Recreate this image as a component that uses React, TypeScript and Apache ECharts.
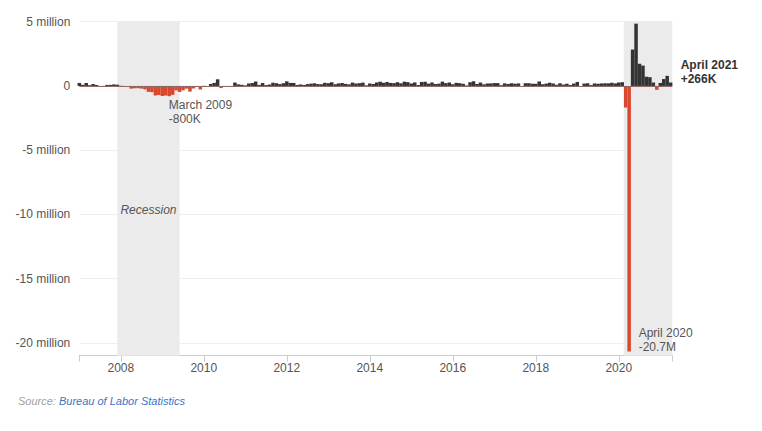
import React, { useEffect, useRef } from 'react';
import * as echarts from 'echarts';

// Monthly change in nonfarm payrolls, thousands
const years = [2007, 2008, 2009, 2010, 2011, 2012, 2013, 2014, 2015, 2016, 2017, 2018, 2019, 2020, 2021];
const jobs2007 = [234, 90, 227, 58, 147, 75, -34, -20, 82, 80, 118, 96];
const jobs2008 = [17, -85, -78, -211, -184, -178, -210, -269, -459, -481, -743, -705];
const jobs2009 = [-784, -743, -800, -695, -345, -468, -343, -211, -442, -199, -12, -277];
const jobs2010 = [14, -68, 155, 237, 516, -167, -58, -51, -27, 262, 121, 87];
const jobs2011 = [42, 188, 225, 346, 77, 225, 69, 110, 248, 209, 141, 209];
const jobs2012 = [358, 237, 233, 78, 115, 76, 143, 177, 203, 146, 132, 244];
const jobs2013 = [211, 286, 130, 197, 226, 162, 122, 261, 190, 212, 258, 47];
const jobs2014 = [190, 151, 272, 329, 246, 304, 232, 218, 286, 200, 331, 292];
const jobs2015 = [190, 271, 72, 309, 326, 176, 270, 147, 177, 334, 215, 265];
const jobs2016 = [128, 240, 213, 167, 39, 287, 365, 152, 263, 124, 190, 196];
const jobs2017 = [221, 222, 59, 199, 153, 200, 175, 195, -2, 211, 211, 170];
const jobs2018 = [166, 348, 129, 178, 249, 192, 88, 205, 103, 172, 70, 183];
const jobs2019 = [311, 1, 183, 206, 62, 191, 168, 195, 207, 202, 248, 195];
const jobs2020 = [269, 289, -1683, -20679, 2833, 4846, 1726, 1583, 716, 680, 264, -306];
const jobs2021 = [233, 536, 785, 266];
const monthlyJobs = [jobs2007, jobs2008, jobs2009, jobs2010, jobs2011, jobs2012, jobs2013, jobs2014, jobs2015, jobs2016, jobs2017, jobs2018, jobs2019, jobs2020, jobs2021];

const xLabelYears = [2008, 2010, 2012, 2014, 2016, 2018, 2020];
const xMin = 2007;
const xMax = 2021.29;
const recession = [2007 + 11 / 12, 2009 + 5 / 12];
const pandemic = [2020.12, xMax];

const annotations = [
  { year: 2009, month: 3, text: 'March 2009\n-800K', bold: false },
  { year: 2020, month: 4, text: 'April 2020\n-20.7M', bold: false },
  { year: 2021, month: 4, text: 'April 2021\n+266K', bold: true },
];

const RED = '#d9472f';
const DARK = '#333333';

export default function App() {
  const ref = useRef<HTMLDivElement>(null);
  useEffect(() => {
    document.body.style.margin = '0';
    const chart = echarts.init(ref.current!, null, { renderer: 'svg' });
    const data: [number, number][] = [];
    years.forEach((y, i) => {
      monthlyJobs[i].forEach((v, m) => data.push([y + m / 12, v / 1000]));
    });
    const valueAt = (y: number, m: number) => monthlyJobs[years.indexOf(y)][m - 1] / 1000;

    const labelPos: Record<number, any> = {
      0: { position: [0, 2], verticalAlign: 'top' },
      1: { position: [10, 3], verticalAlign: 'bottom' },
      2: { position: [10.5, -10], verticalAlign: 'middle' },
    };

    const font = 'Arial, "Liberation Sans", Helvetica, sans-serif';

    chart.setOption({
      animation: false,
      textStyle: { fontFamily: font },
      title: {
        text: '{a|Source: }{b|Bureau of Labor Statistics}',
        left: 18,
        top: 395,
        padding: 0,
        textStyle: {
          fontFamily: font,
          fontWeight: 'normal',
          fontSize: 11,
          rich: {
            a: { color: '#a0a0a0', fontStyle: 'italic', fontWeight: 'normal', fontSize: 11, fontFamily: font },
            b: { color: '#3b73c9', fontStyle: 'italic', fontWeight: 'normal', fontSize: 11, fontFamily: font },
          },
        },
      },
      grid: { left: 79.3, right: 89.7, top: 21.7, bottom: 75.3, containLabel: false },
      xAxis: {
        type: 'value',
        min: xMin,
        max: xMax,
        axisLine: { show: true, onZero: false, lineStyle: { color: '#cccccc' } },
        axisTick: {
          show: true,
          length: 6,
          lineStyle: { color: '#cccccc' },
          customValues: [xMin, ...xLabelYears, xMax],
        },
        axisLabel: {
          customValues: xLabelYears,
          color: '#555',
          fontSize: 12,
          margin: 6,
          fontFamily: font,
          formatter: (v: number) => String(Math.round(v)),
        },
        splitLine: { show: false },
      },
      yAxis: {
        type: 'value',
        min: -21,
        max: 5,
        axisLine: { show: false },
        axisTick: { show: false },
        axisLabel: {
          color: '#555',
          fontSize: 12,
          margin: 9,
          fontFamily: font,
          showMinLabel: false,
          formatter: (v: number) => (v === 0 ? '0' : `${v} million`),
        },
        splitLine: { show: true, lineStyle: { color: '#eeeeee' } },
      },
      series: [
        {
          type: 'bar',
          data,
          barWidth: 3.5,
          itemStyle: {
            color: (p: any) => (p.value[1] < 0 ? RED : DARK),
          },
          markArea: {
            silent: true,
            itemStyle: { color: '#ebebeb' },
            data: [
              [
                {
                  xAxis: recession[0],
                  name: 'Recession',
                  label: {
                    show: true,
                    position: 'inside',
                    offset: [0, 21],
                    color: '#555',
                    fontStyle: 'italic',
                    fontSize: 12,
                    fontFamily: font,
                    formatter: 'Recession',
                  },
                },
                { xAxis: recession[1] },
              ],
              [
                { xAxis: pandemic[0], label: { show: false } },
                { xAxis: pandemic[1] },
              ],
            ],
          },
          markLine: {
            silent: true,
            symbol: 'none',
            label: { show: false },
            lineStyle: { color: '#8c6a63', width: 1, type: 'solid' },
            data: [{ yAxis: 0 }],
          },
          markPoint: {
            symbol: 'circle',
            symbolSize: 1,
            itemStyle: { color: 'rgba(0,0,0,0)' },
            data: annotations.map((a, i) => ({
              coord: [a.year + (a.month - 1) / 12, valueAt(a.year, a.month)],
              label: {
                show: true,
                formatter: a.text,
                align: 'left',
                ...labelPos[i],
                color: a.bold ? '#333' : '#555',
                fontWeight: a.bold ? 'bold' : 'normal',
                fontSize: 12,
                lineHeight: 14,
                fontFamily: font,
              },
            })),
          },
        },
      ],
    });
    return () => chart.dispose();
  }, []);
  return <div ref={ref} style={{ width: 762, height: 431 }} />;
}
